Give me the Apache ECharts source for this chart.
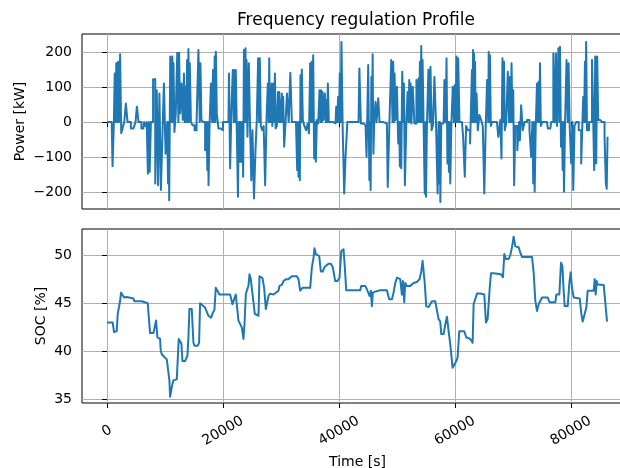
<!DOCTYPE html>
<html>
<head>
<meta charset="utf-8">
<title>Frequency regulation Profile</title>
<script src="https://cdn.jsdelivr.net/npm/echarts@6/dist/echarts.min.js"></script>
<style>
  html, body { margin: 0; padding: 0; background: #fff; }
  #chart { width: 620px; height: 468px; }
</style>
</head>
<body>
<div id="chart"></div>
<script>
// upper panel: time [s] and power [kW]
const powerTime = [
  0, 806, 1093, 1266, 1381, 1520, 1669, 1810, 1956, 2150, 2359, 2532, 2819, 3107, 3394, 3682,
  4545, 4833, 5005, 5293, 5580, 6271, 6501, 6731, 6961, 7134, 7280, 7422, 7710, 8170, 8457, 8687,
  8917, 9147, 9435, 9723, 9896, 10298, 10450, 10586, 10680, 10758, 11046, 11190, 11334, 11420, 11506, 11736,
  11966, 12254, 12370, 12484, 12714, 12944, 13175, 13347, 13490, 13635, 13750, 13865, 13980, 14095, 14210, 14325,
  14613, 14900, 15303, 15590, 15936, 16050, 16166, 16396, 16741, 17087, 17230, 17374, 17460, 17547, 17777, 18065,
  18200, 18352, 18500, 18640, 18730, 18812, 19043, 19388, 19791, 20194, 20942, 21115, 21345, 21575, 21805, 21920,
  22035, 22150, 22265, 22496, 22668, 22760, 22841, 22950, 23071, 23190, 23301, 23420, 23531, 23704, 23820, 23934,
  24020, 24106, 24337, 24567, 24797, 24969, 25200, 25487, 25717, 25947, 26177, 26290, 26408, 26638, 26868, 27156,
  27386, 27616, 27846, 27930, 28018, 28130, 28249, 28330, 28421, 28594, 28824, 28910, 28996, 29169, 29399, 29572,
  29660, 29744, 29860, 29974, 30090, 30205, 30320, 30435, 30665, 30895, 31183, 31470, 31758, 31988, 32448, 32736,
  32851, 32960, 33081, 33200, 33311, 33426, 33540, 33656, 33886, 34174, 34462, 34750, 34922, 35152, 35270, 35382,
  35500, 35612, 35843, 35960, 36073, 36303, 36533, 36763, 36880, 36993, 37110, 37223, 37454, 37684, 37800, 37914,
  38030, 38144, 38374, 39064, 39409, 39640, 39780, 39927, 40070, 40216, 40360, 40504, 40791, 41021, 41251, 41654,
  43380, 43668, 43898, 44243, 44588, 44933, 45164, 45336, 45420, 45509, 45681, 45770, 45854, 46027, 46199, 46429,
  46540, 46659, 46889, 47120, 48270, 48558, 48846, 49191, 49300, 49421, 49540, 49651, 49881, 50111, 50341, 50450,
  50571, 50690, 50802, 51032, 51150, 51262, 51492, 51722, 51952, 52070, 52182, 52300, 52412, 52585, 52873, 53160,
  53563, 53680, 53793, 53910, 54023, 54140, 54253, 54370, 54483, 54714, 54886, 54970, 55059, 55289, 55577, 55720,
  55864, 56094, 56324, 56612, 56900, 57130, 57250, 57360, 57450, 57533, 57763, 58050, 58338, 58480, 58626, 58798,
  58910, 59028, 59140, 59258, 59488, 59776, 59920, 60064, 60200, 60352, 60500, 60640, 60927, 61216, 61618, 61791,
  62079, 62366, 62884, 62999, 63090, 63172, 63260, 63344, 63430, 63517, 63660, 63805, 64092, 64380, 64667, 64955,
  65185, 65415, 65703, 65790, 65876, 65990, 66106, 66278, 66566, 67256, 67717, 67947, 68119, 68292, 68400, 68522,
  68695, 68982, 69270, 69410, 69558, 69700, 69845, 69990, 70133, 70306, 70536, 70996, 71140, 71283, 71571, 71859,
  72146, 72722, 73009, 73297, 73440, 73585, 73700, 73815, 74045, 74275, 74390, 74505, 74620, 74735, 74908, 75196,
  75886, 76174, 76461, 76749, 77209, 77350, 77497, 77727, 77957, 78070, 78187, 78417, 78530, 78647, 78760, 78878,
  79108, 79395, 79540, 79683, 79913, 80201, 80340, 80488, 80776, 81064, 81639, 81927, 82070, 82215, 82360, 82502,
  82590, 82675, 82905, 83366, 83941, 84114, 84286, 84459, 84631, 84804, 85091, 85667, 85954, 86127, 86242, 86415
]
const powerKW = [
  0, 0, -126, 0, 139, 0, 168, 0, 172, 0, 194, -32, -18, 0, 53, 0,
  -18, -18, 0, 44, 0, -18, 0, -11, 0, -147, 0, -142, 0, 122, -175, 91,
  -180, 82, -194, -23, 110, -90, 0, -175, 0, -223, 187, 0, 187, 0, 168, -28,
  25, 198, 0, 198, 25, 110, 6, 139, 0, 101, 0, 177, 0, 209, 0, 168,
  0, -9, -23, 0, 206, 0, 168, 6, 0, -80, 0, -137, 0, -180, -23, 110,
  0, 149, 0, 187, 0, 201, 25, -18, -23, 0, 0, 139, -132, 39, 149, 0,
  149, 0, 149, -23, -213, 0, -113, 0, -113, 0, -113, 0, -156, 206, 0, 211,
  0, 177, -42, 168, -23, -166, -23, -218, -80, 6, 182, 0, 182, -11, -23, -11,
  -180, 6, 110, 0, 182, 0, 91, 0, 110, -11, 110, 0, 139, -18, -11, 86,
  0, 86, 0, 63, 0, 82, 0, 72, -70, -4, 82, 0, 141, 0, 0, -4,
  -137, 0, -156, 0, -166, 134, 0, 150, 6, -11, -23, -4, -32, 168, 0, 172,
  0, 191, -104, 0, -113, 6, -4, 91, 0, 91, 0, 86, 6, 82, 0, 63,
  0, 110, 0, 0, -4, 44, 0, 72, 0, 139, 0, 229, -23, -204, -99, 0,
  0, 153, -4, -4, -9, -99, 163, -166, 0, -194, 129, 0, 194, -90, 14, 58,
  0, 25, 68, 0, -4, -185, -4, 177, 0, 172, 0, 139, 6, 101, -61, 0,
  -127, 0, -132, 144, 0, 110, -180, -11, 86, 0, 120, 0, 110, -4, 101, -4,
  120, 0, 125, 0, 172, 0, 217, 0, 177, -4, -204, 0, -213, -11, 150, 0,
  158, -23, -9, 129, -11, -204, 0, -175, 0, -228, -4, -4, 120, 0, 182, -118,
  0, -142, 0, -175, -18, 101, 0, 106, 0, 187, 0, 182, 0, 0, -42, -156,
  -11, -23, -61, 149, 0, 206, 0, 196, 0, 172, 0, 82, -23, 20, 6, -11,
  -204, -23, 120, 0, 201, 0, 191, -11, 0, 0, -42, 6, -104, 182, 0, 172,
  -23, -4, 144, 0, 129, 0, 168, 0, 91, -180, -11, -80, 0, -52, 48, -23,
  0, 6, -23, -99, 0, -175, 0, -199, -23, 110, 0, 115, 0, 168, -11, 0,
  0, -18, -18, 0, 196, 0, 196, -11, 211, 0, 215, -70, 0, -137, 0, -199,
  -11, 177, 0, 168, -11, -118, 0, -194, -11, 0, -23, -118, 0, 72, 0, 172,
  0, 229, -23, 0, 177, -137, 187, -118, 187, 6, 6, 0, -42, -175, -190, -42
]

// lower panel: time [s] and state of charge [%]
const socTime = [
  0, 978, 1208, 1381, 1669, 1841, 2071, 2244, 2416, 2704, 2934, 3394, 3682, 4545, 4718, 5005,
  5983, 6271, 7019, 7249, 7422, 8000, 8284, 8457, 8687, 8860, 9147, 9262, 9435, 9838, 10298, 10586,
  10758, 10873, 11046, 11218, 11448, 11736, 12024, 12369, 12599, 12829, 13002, 13462, 13865, 14037, 14210, 14613,
  14900, 15073, 15648, 15878, 16051, 16339, 16914, 17202, 17489, 17662, 17950, 18237, 18525, 18755, 19043, 19388,
  21230, 21402, 21632, 21920, 22208, 22496, 22668, 22956, 23243, 23531, 23704, 23934, 24106, 24394, 24567, 24797,
  24969, 25257, 25487, 25717, 26120, 26293, 26523, 26811, 27098, 27386, 27558, 27846, 28134, 28709, 28996, 29572,
  29744, 30147, 30435, 30722, 30895, 31298, 31585, 31873, 32736, 33023, 33311, 33484, 33714, 35037, 35325, 35612,
  35785, 36015, 36303, 36590, 36878, 37223, 37454, 37799, 38201, 38604, 38949, 39352, 39755, 40100, 40400, 40791,
  41021, 41251, 41942, 43668, 43840, 44531, 44818, 45106, 45279, 45509, 45681, 45854, 46257, 46544, 47120, 48270,
  48673, 49133, 49421, 49709, 49996, 50284, 50571, 50859, 51032, 51262, 51434, 51722, 52297, 52585, 52873, 53448,
  53908, 54196, 54426, 54599, 54771, 55059, 55462, 55749, 56037, 56612, 56900, 57187, 57475, 57648, 58050, 58338,
  58626, 58914, 59201, 59374, 59604, 59891, 60237, 60467, 60754, 61215, 61618, 61964, 62366, 62769, 63057, 63229,
  63517, 63805, 64380, 65070, 65358, 65645, 65991, 66221, 66681, 67947, 68292, 68522, 68810, 69270, 69558, 69845,
  70133, 70421, 70996, 71283, 71571, 73297, 73585, 73873, 74160, 74448, 74735, 75023, 76001, 76346, 77324, 77497,
  78014, 78302, 78532, 78763, 78935, 79453, 79740, 79970, 80201, 80488, 81524, 81812, 82042, 82330, 82675, 82905,
  83941, 84114, 84286, 84459, 84631, 85667, 85839, 86242
]
const socPct = [
  43.0, 43.0, 42.0, 41.8, 42.1, 43.9, 44.1, 45.2, 46.1, 45.9, 45.6, 45.65, 45.5, 45.5, 45.2, 45.3,
  45.2, 45.1, 45.0, 43.2, 41.9, 41.9, 41.8, 43.2, 41.45, 41.3, 41.3, 40.1, 39.7, 39.45, 39.2, 39.0,
  37.0, 35.3, 35.4, 36.45, 37.0, 37.0, 37.1, 41.3, 41.4, 40.8, 39.0, 39.0, 39.55, 41.45, 44.4, 44.4,
  40.9, 40.6, 40.6, 40.9, 45.0, 44.9, 44.55, 44.4, 43.7, 43.5, 43.5, 44.0, 44.3, 46.6, 46.45, 45.9,
  45.9, 45.75, 44.9, 45.4, 45.9, 45.9, 43.2, 43.0, 42.5, 41.3, 42.8, 45.9, 46.3, 46.8, 48.0, 47.5,
  46.6, 46.8, 43.9, 43.7, 43.7, 47.8, 47.9, 47.6, 46.6, 44.4, 44.55, 45.75, 46.0, 45.9, 46.1, 46.3,
  46.8, 46.9, 47.3, 47.1, 47.5, 47.5, 47.7, 47.8, 47.8, 47.5, 46.3, 46.1, 46.6, 46.6, 48.7, 49.7,
  50.7, 50.1, 50.0, 49.9, 48.3, 48.3, 48.7, 48.9, 49.1, 49.1, 48.7, 47.3, 47.3, 47.65, 50.4, 50.6,
  48.7, 46.35, 46.35, 46.35, 46.8, 46.8, 46.45, 46.3, 45.75, 46.3, 44.7, 46.1, 46.2, 46.3, 46.35, 46.35,
  45.4, 45.4, 46.1, 47.1, 47.65, 47.8, 47.5, 45.9, 47.3, 45.1, 47.1, 46.8, 46.8, 46.95, 47.1, 47.2,
  47.5, 48.3, 49.4, 49.2, 47.3, 44.7, 44.6, 44.7, 45.2, 45.2, 45.1, 43.35, 43.1, 41.8, 41.8, 42.8,
  43.6, 42.1, 40.75, 40.6, 38.3, 38.5, 39.0, 39.4, 42.1, 42.1, 42.1, 41.45, 41.4, 41.2, 40.9, 44.9,
  45.0, 46.0, 46.0, 45.9, 43.0, 43.35, 46.45, 48.1, 48.1, 48.0, 47.7, 50.1, 49.6, 49.6, 50.0, 50.8,
  51.9, 50.9, 50.8, 50.25, 49.8, 49.8, 48.2, 45.25, 44.2, 44.9, 45.1, 45.6, 45.6, 45.1, 45.1, 45.9,
  45.9, 49.2, 48.9, 46.3, 44.7, 44.7, 47.1, 48.2, 46.6, 45.6, 45.5, 43.9, 43.1, 43.2, 44.55, 46.3,
  46.3, 47.5, 45.9, 47.3, 46.95, 46.9, 46.8, 43.1
]

const timeTicks = [0, 20000, 40000, 60000, 80000]
const powerTicks = [-200, -100, 0, 100, 200]
const socTicks = [35, 40, 45, 50]

const chart = echarts.init(document.getElementById('chart'))

const font = 'DejaVu Sans'
const ink = '#000'
const blue = '#1f77b4'
const minus = v => String(v).replace('-', '\u2212')

const splitLine = { show: true, lineStyle: { color: '#b0b0b0', width: 1 } }
const tickStyle = vals => ({ show: true, customValues: vals, length: 5, lineStyle: { color: ink, width: 1 } })
const labelStyle = { fontFamily: font, fontSize: 14, color: ink }
const nameStyle = { fontFamily: font, fontSize: 14, color: ink }

// the frame runs past the right edge of the picture, as in the reference
const frame = {
  show: true, borderColor: ink, borderWidth: 1, backgroundColor: 'transparent',
  outerBoundsMode: 'none', containLabel: false
}

const option = {
  animation: false,
  backgroundColor: '#fff',
  title: {
    text: 'Frequency regulation Profile',
    left: 351,
    top: 7,
    textAlign: 'center',
    textStyle: { fontFamily: font, fontSize: 17, fontWeight: 'normal', color: ink }
  },
  grid: [
    Object.assign({ left: 82, width: 551, top: 34, height: 175 }, frame),
    Object.assign({ left: 82, width: 551, top: 229, height: 174 }, frame)
  ],
  xAxis: [
    {
      type: 'value', gridIndex: 0, min: -4320, max: 90720,
      minInterval: 20000, maxInterval: 20000,
      axisLine: { show: false },
      axisTick: tickStyle(timeTicks),
      axisLabel: { show: false },
      splitLine: splitLine
    },
    {
      type: 'value', gridIndex: 1, min: -4320, max: 90720,
      minInterval: 20000, maxInterval: 20000,
      name: 'Time [s]', nameLocation: 'middle', nameGap: 52, nameMoveOverlap: false,
      nameTextStyle: nameStyle,
      axisLine: { show: false },
      axisTick: tickStyle(timeTicks),
      axisLabel: Object.assign({
        customValues: timeTicks, rotate: 30, align: 'center', verticalAlign: 'middle', margin: 28,
        formatter: v => String(v)
      }, labelStyle),
      splitLine: splitLine
    }
  ],
  yAxis: [
    {
      type: 'value', gridIndex: 0, min: -248, max: 251.5,
      minInterval: 100, maxInterval: 100,
      name: 'Power [kW]', nameLocation: 'middle', nameGap: 55, nameMoveOverlap: false,
      nameTextStyle: nameStyle,
      axisLine: { show: false },
      axisTick: tickStyle(powerTicks),
      axisLabel: Object.assign({ customValues: powerTicks, margin: 10, formatter: minus }, labelStyle),
      splitLine: splitLine
    },
    {
      type: 'value', gridIndex: 1, min: 34.65, max: 52.7,
      minInterval: 5, maxInterval: 5,
      name: 'SOC [%]', nameLocation: 'middle', nameGap: 34, nameMoveOverlap: false,
      nameTextStyle: nameStyle,
      axisLine: { show: false },
      axisTick: tickStyle(socTicks),
      axisLabel: Object.assign({ customValues: socTicks, margin: 10 }, labelStyle),
      splitLine: splitLine
    }
  ],
  series: [
    {
      // the power signal jumps between levels, so draw it as steps
      type: 'line', xAxisIndex: 0, yAxisIndex: 0, step: 'middle',
      data: powerTime.map((t, i) => [t, powerKW[i]]),
      showSymbol: false, symbol: 'none',
      lineStyle: { color: blue, width: 2, join: 'round' }
    },
    {
      type: 'line', xAxisIndex: 1, yAxisIndex: 1,
      data: socTime.map((t, i) => [t, socPct[i]]),
      showSymbol: false, symbol: 'none',
      lineStyle: { color: blue, width: 2, join: 'round' }
    }
  ]
}

chart.setOption(option)
</script>
</body>
</html>
